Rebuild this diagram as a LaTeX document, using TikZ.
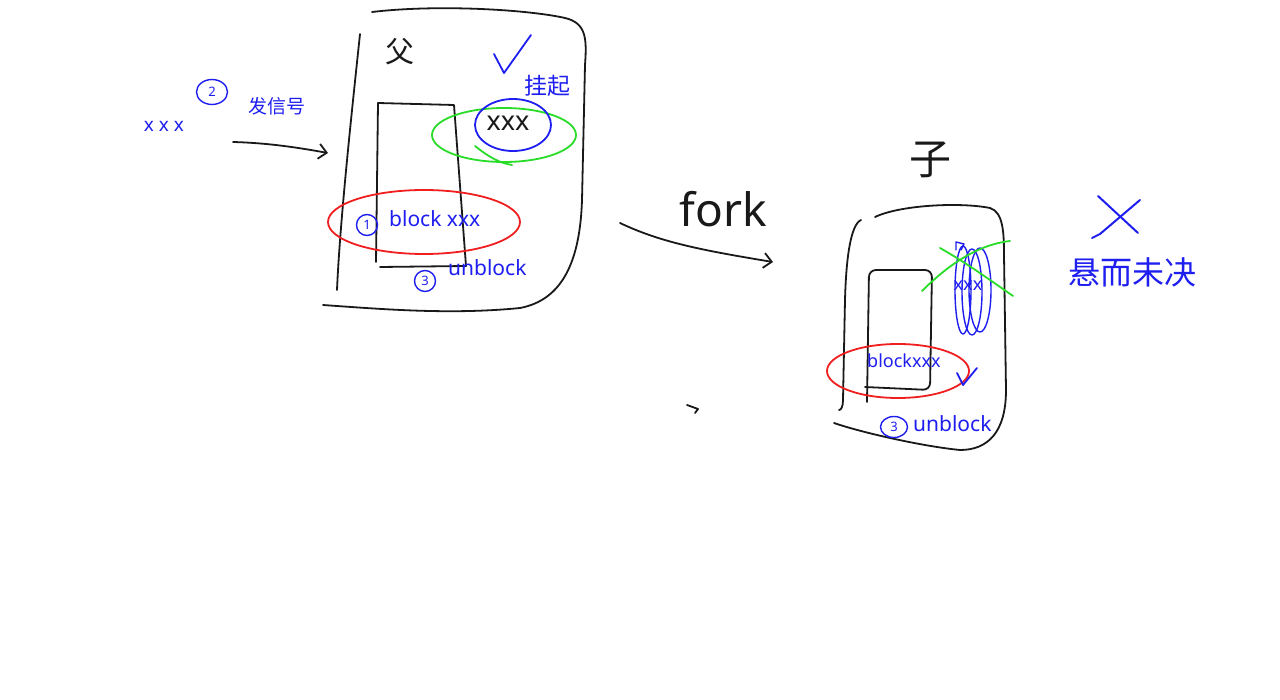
\documentclass[tikz,border=0pt]{standalone}
\usepackage{fontspec}
\setmainfont{Noto Sans}
\newfontfamily\cjk{Noto Sans CJK SC}
\usetikzlibrary{arrows.meta, shapes.geometric}
\definecolor{penblue}{RGB}{30,30,240}
\definecolor{pengreen}{RGB}{40,220,40}
\definecolor{penred}{RGB}{240,30,30}
\definecolor{penblack}{RGB}{25,25,25}

\begin{document}
\begin{tikzpicture}[
          x=1pt, y=-1pt,
          pen/.style={line width=1.8pt, line cap=round, line join=round},
          ink/.style={pen, draw=penblack},
          bink/.style={pen, draw=penblue},
          gink/.style={pen, draw=pengreen},
          rink/.style={pen, draw=penred},
          hand/.style={text=penblue, inner sep=0pt, font=\fontsize{21}{24}\selectfont},
          han/.style={text=penblue, inner sep=0pt, font=\cjk\fontsize{#1}{#1}\selectfont},
          num/.style={circle, draw=penblue, line width=1.4pt, text=penblue,
                      inner sep=1.2pt, minimum size=21pt,
                      font=\fontsize{13}{14}\selectfont},
          arr/.style={ink, -{Straight Barb[length=8pt, width=15pt]}}
        ]
          \useasboundingbox[fill=white] (0,0) rectangle (1280,700);

          % parent process
          \draw[ink] (372,12) .. controls (440,4) and (530,10) .. (565,18)
            .. controls (586,23) and (587,38) .. (585,65) -- (582,200)
            .. controls (580,262) and (562,300) .. (520,308)
            .. controls (450,315) and (380,309) .. (323,305);
          \draw[ink] (360,34) .. controls (352,110) and (340,220) .. (337,290);
          \draw[ink] (376,262) -- (378,103) -- (454,105) -- (466,266)
            -- (380,267);
          \node[text=penblack, inner sep=0pt, font=\cjk\fontsize{29}{29}\selectfont]
            (fu) at (400,52) {父};
          \draw[bink] (494,54) -- (504,73) -- (531,35);
          \node[han=23] (guaqi) at (547,86) {挂起};
          \draw[gink] (504,135) ellipse [x radius=72, y radius=27];
          \draw[gink] (475,146) .. controls (490,158) and (500,163) .. (512,165);
          \draw[bink] (513,125) ellipse [x radius=38, y radius=26];
          \node[text=penblack, inner sep=0pt, font=\fontsize{27}{28}\selectfont]
            (pxxx) at (508,123) {xxx};
          \draw[rink] (424,222) ellipse [x radius=96, y radius=32];
          \node[num] (n1) at (367,225) {1};
          \node[hand, anchor=west] (pblock) at (389,219) {block xxx};
          \node[num] (n3) at (425,281) {3};
          \node[hand, anchor=west] (punblock) at (448,268) {unblock};

          % signal
          \node[hand, font=\fontsize{19}{22}\selectfont] (sxxx) at (164,126) {x x x};
          \node[num, ellipse, minimum width=31pt, minimum height=25pt] (n2) at (212,92) {2};
          \node[han=19] (fxh) at (277,106) {发信号};
          \coordinate (sigA) at (233,142);
          \coordinate (sigB) at (328,153);
          \draw[arr] (sigA) .. controls (270,143) and (300,148) .. (sigB);

          % fork
          \coordinate (forkA) at (620,223);
          \coordinate (forkB) at (773,262);
          \draw[arr] (forkA) .. controls (660,242) and (700,250) .. (forkB);
          \node[text=penblack, inner sep=0pt, font=\fontsize{46}{48}\selectfont]
            (fork) at (723,209) {fork};
          \draw[ink] (687,405) -- (698,409) -- (695,413);

          % child process
          \node[text=penblack, inner sep=0pt, font=\cjk\fontsize{42}{42}\selectfont]
            (zi) at (930,160) {子};
          \draw[ink] (875,217) .. controls (900,205) and (960,202) .. (990,208)
            .. controls (1003,212) and (1004,232) .. (1004,255) -- (1006,390)
            .. controls (1006,432) and (988,450) .. (960,450)
            .. controls (920,446) and (860,432) .. (834,423);
          \draw[ink] (861,220) .. controls (850,225) and (846,262) .. (845,300)
            -- (843,400) .. controls (843,407) and (841,410) .. (839,410);
          \draw[ink, rounded corners=7pt] (867,402) -- (869,270) -- (932,270)
            -- (930,390) -- (865,387);
          \draw[bink, line width=1.4pt] (963,290) ellipse [x radius=8, y radius=44];
          \draw[bink, line width=1.4pt] (972,292) ellipse [x radius=10, y radius=43];
          \draw[bink, line width=1.4pt] (980,290) ellipse [x radius=11, y radius=42];
          \draw[bink, line width=1.4pt] (956,250) -- (956,242) -- (964,244) -- (961,250);
          \node[text=penblue, inner sep=0pt, font=\fontsize{18}{20}\selectfont]
            (cxxx) at (968,286) {xxx};
          \draw[gink] (940,248) .. controls (965,262) and (990,280) .. (1013,296);
          \draw[gink] (922,291) .. controls (945,268) and (975,245) .. (1010,241);
          \draw[rink] (898,371) ellipse [x radius=71, y radius=27];
          \node[hand, anchor=west, font=\fontsize{18}{20}\selectfont]
            (cblock) at (867,361) {blockxxx};
          \draw[bink] (957,373) -- (963,385) -- (977,368);
          \node[num, ellipse, minimum width=27pt, minimum height=21pt] (c3) at (894,427) {3};
          \node[hand, anchor=west] (cunblock) at (913,424) {unblock};

          % pending
          \draw[bink, line width=2pt] (1098,196) -- (1138,233);
          \draw[bink, line width=2pt] (1140,200) -- (1100,234) -- (1092,238);
          \node[han=32] (xeowj) at (1132,272) {悬而未决};
        \end{tikzpicture}
\end{document}
